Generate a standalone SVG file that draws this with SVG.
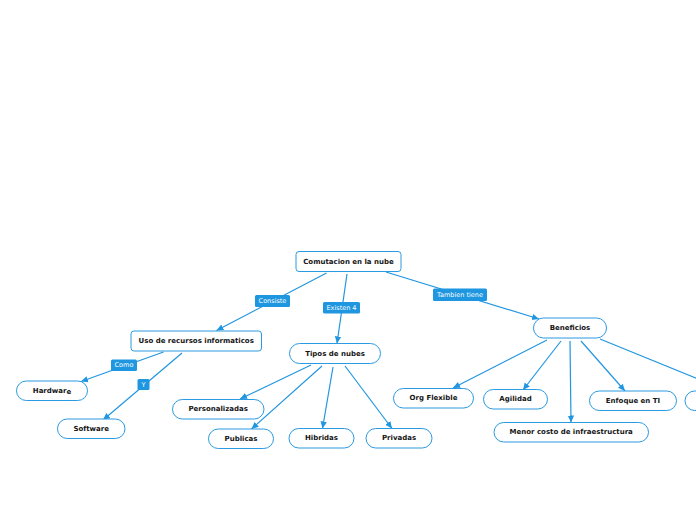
<svg xmlns="http://www.w3.org/2000/svg" width="696" height="520" viewBox="0 0 696 520">
<style>
.node rect{fill:#fff;stroke:#2a9ae2;stroke-width:1}
.node text{font-family:"DejaVu Sans",Verdana,sans-serif;font-weight:bold;font-size:7px;fill:#151515;text-anchor:middle;dominant-baseline:central}
.conn path{fill:none;stroke:#2196e0;stroke-width:1.2}
.lbl rect{fill:#1e96e0}
.lbl text{font-family:"DejaVu Sans",Verdana,sans-serif;font-size:6.5px;fill:#fff;text-anchor:middle;dominant-baseline:central}
</style>
<defs>
<marker id="arr" markerUnits="userSpaceOnUse" markerWidth="8" markerHeight="8" viewBox="0 0 8 8" refX="7" refY="4" orient="auto">
<path d="M0,0.8 L7,4 L0,7.2 Z" fill="#2196e0"/>
</marker>
</defs>
<rect width="696" height="520" fill="#fff"/>
<g id="connectors" class="conn">
<path d="M326.5,273 L216.5,330.5" marker-end="url(#arr)"/>
<path d="M347,274 L337,343.5" marker-end="url(#arr)"/>
<path d="M386,272 L539,319" marker-end="url(#arr)"/>
<path d="M163.5,352 L81,381.5" marker-end="url(#arr)"/>
<path d="M182,353 L103,420" marker-end="url(#arr)"/>
<path d="M311,365 L240,399" marker-end="url(#arr)"/>
<path d="M322,366 L251.5,429" marker-end="url(#arr)"/>
<path d="M333,367 L322.5,428.5" marker-end="url(#arr)"/>
<path d="M345,366 L392,428.5" marker-end="url(#arr)"/>
<path d="M547,340 L453,388" marker-end="url(#arr)"/>
<path d="M561,341 L523,390" marker-end="url(#arr)"/>
<path d="M570,341 L571,422.5" marker-end="url(#arr)"/>
<path d="M581,341 L625,391" marker-end="url(#arr)"/>
<path d="M600,339 L708,383" marker-end="url(#arr)"/>
<g class="lbl">
<rect x="255" y="295" width="35" height="12" rx="1.5"/><text x="272.5" y="301">Consiste</text>
<rect x="323" y="302" width="37" height="11.5" rx="1.5"/><text x="341.5" y="307.8">Existen 4</text>
<rect x="433" y="288.5" width="54" height="12.5" rx="1.5"/><text x="460" y="294.8">Tambien tiene</text>
<rect x="111" y="359.5" width="26" height="11.5" rx="1.5"/><text x="124" y="365.3">Como</text>
<rect x="137.5" y="379" width="12" height="11" rx="1.5"/><text x="143.5" y="384.5">Y</text>
</g>
</g>
<g id="root" class="node"><rect x="296" y="251.5" width="105" height="20" rx="3"/><text x="348.5" y="261.5">Comutacion en la nube</text></g>
<g id="uso" class="node"><rect x="131" y="331" width="130.5" height="20" rx="3"/><text x="196.2" y="341">Uso de recursos informaticos</text></g>
<g id="tipos" class="node"><rect x="289.5" y="343.5" width="91" height="20" rx="10"/><text x="335" y="353.5">Tipos de nubes</text></g>
<g id="beneficios" class="node"><rect x="533.5" y="318" width="73" height="20" rx="10"/><text x="570" y="328">Beneficios</text></g>
<g id="hardware" class="node"><rect x="16.5" y="381" width="71" height="19.5" rx="9.75"/><text x="52" y="390.5">Hardwar<tspan dy="1.3">e</tspan></text></g>
<g id="software" class="node"><rect x="57.5" y="419" width="67.5" height="19.5" rx="9.75"/><text x="91.2" y="428.8">Software</text></g>
<g id="personalizadas" class="node"><rect x="172.5" y="399.5" width="91.5" height="19.5" rx="9.75"/><text x="218.2" y="409.3">Personalizadas</text></g>
<g id="publicas" class="node"><rect x="208.5" y="429" width="65" height="19.5" rx="9.75"/><text x="241" y="438.8">Publicas</text></g>
<g id="hibridas" class="node"><rect x="289" y="428.5" width="65" height="19.5" rx="9.75"/><text x="321.5" y="438">Hibridas</text></g>
<g id="privadas" class="node"><rect x="366" y="428.5" width="66" height="19.5" rx="9.75"/><text x="399" y="438.3">Privadas</text></g>
<g id="orgflexible" class="node"><rect x="393.5" y="388.5" width="80" height="19.5" rx="9.75"/><text x="433.5" y="398.2">Org Flexible</text></g>
<g id="agilidad" class="node"><rect x="483.5" y="389.5" width="64" height="19.5" rx="9.75"/><text x="515.5" y="399.2">Agilidad</text></g>
<g id="menorcosto" class="node"><rect x="494" y="422.5" width="154.5" height="19.5" rx="9.75"/><text x="571.2" y="432.2">Menor costo de infraestructura</text></g>
<g id="enfoque" class="node"><rect x="589.5" y="391" width="87" height="19.5" rx="9.75"/><text x="633" y="400.8">Enfoque en TI</text></g>
<g id="cutoff" class="node"><rect x="685" y="391" width="60" height="19.5" rx="9.75"/></g>
</svg>
